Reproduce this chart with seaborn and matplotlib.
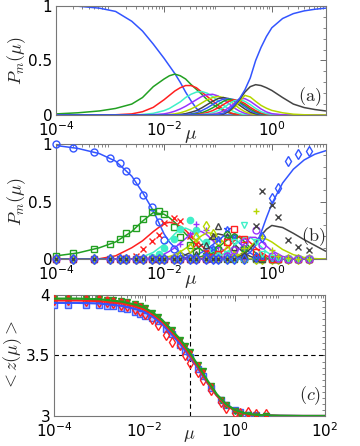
import numpy as np
import pandas as pd
import seaborn as sns
import matplotlib.pyplot as plt
from matplotlib.ticker import LogLocator, MultipleLocator, NullFormatter, FixedLocator

# log10(mu) where the solid curves of panels (a) and (b) are sampled
log_mu = [-4, -3.6, -3.2, -2.9, -2.6, -2.4, -2.2, -2.0, -1.9, -1.8, -1.7, -1.6, -1.5, -1.4, -1.3, -1.2,
          -1.1, -1.0, -0.9, -0.8, -0.7, -0.6, -0.5, -0.4, -0.3, -0.2, -0.1, 0.0, 0.2, 0.4, 0.6, 0.8, 1.0]

# panel (a): P_m(mu), m = 0..14
pa = [
    [1.0, 0.998, 0.98, 0.95, 0.86, 0.77, 0.65, 0.52, 0.45, 0.38, 0.30, 0.21, 0.13, 0.06, 0.02, 0.005] + [0] * 17,
    [0.01, 0.02, 0.037, 0.06, 0.10, 0.16, 0.26, 0.33, 0.36, 0.375, 0.36, 0.33, 0.28, 0.235, 0.19, 0.14,
     0.10, 0.065, 0.04, 0.02, 0.008, 0.003] + [0] * 11,
    [0, 0, 0, 0.002, 0.01, 0.03, 0.07, 0.14, 0.18, 0.22, 0.25, 0.27, 0.27, 0.25, 0.21, 0.17,
     0.13, 0.09, 0.05, 0.025, 0.01, 0.003] + [0] * 11,
    [0] * 5 + [0.005, 0.015, 0.04, 0.06, 0.09, 0.12, 0.16, 0.19, 0.21, 0.215, 0.20, 0.17, 0.13, 0.09,
               0.055, 0.03, 0.012, 0.004] + [0] * 10,
    [0] * 6 + [0.003, 0.01, 0.02, 0.035, 0.055, 0.08, 0.11, 0.14, 0.17, 0.185, 0.19, 0.175, 0.145,
               0.105, 0.065, 0.035, 0.015, 0.005] + [0] * 9,
    [0] * 8 + [0.005, 0.01, 0.02, 0.035, 0.055, 0.08, 0.11, 0.14, 0.16, 0.17, 0.16, 0.135, 0.10,
               0.06, 0.03, 0.012, 0.004] + [0] * 8,
    [0] * 10 + [0.005, 0.012, 0.025, 0.04, 0.065, 0.095, 0.125, 0.15, 0.16, 0.15, 0.125, 0.09,
                0.055, 0.025, 0.01, 0.003] + [0] * 7,
    [0] * 11 + [0.004, 0.01, 0.02, 0.04, 0.065, 0.095, 0.125, 0.145, 0.15, 0.14, 0.11, 0.075,
                0.04, 0.018, 0.006] + [0] * 7,
    [0] * 12 + [0.004, 0.01, 0.02, 0.04, 0.065, 0.095, 0.125, 0.145, 0.14, 0.12, 0.09, 0.055,
                0.028, 0.012, 0.004] + [0] * 6,
    [0] * 13 + [0.004, 0.01, 0.022, 0.04, 0.065, 0.095, 0.125, 0.14, 0.13, 0.105, 0.07, 0.04,
                0.018, 0.007, 0.002] + [0] * 5,
    [0] * 14 + [0.004, 0.01, 0.02, 0.04, 0.065, 0.1, 0.13, 0.14, 0.125, 0.095, 0.06, 0.03,
                0.013, 0.005, 0.001] + [0] * 4,
    [0] * 15 + [0.003, 0.008, 0.018, 0.035, 0.065, 0.105, 0.15, 0.15, 0.125, 0.09, 0.055, 0.028,
                0.012, 0.002] + [0] * 4,
    [0] * 16 + [0.003, 0.007, 0.015, 0.03, 0.065, 0.12, 0.18, 0.165, 0.125, 0.088, 0.062, 0.042,
                0.02, 0.007, 0.002, 0, 0],
    [0] * 17 + [0.003, 0.008, 0.03, 0.08, 0.14, 0.21, 0.26, 0.278, 0.27, 0.25, 0.225, 0.16,
                0.10, 0.068, 0.05, 0.037],
    [0] * 17 + [0.005, 0.015, 0.045, 0.09, 0.15, 0.23, 0.34, 0.5, 0.62, 0.72, 0.8, 0.885,
                0.93, 0.955, 0.97, 0.98],
]

# panel (b): fitted P_m(mu), m = 0..14
pb = [
    [0.985, 0.96, 0.915, 0.85, 0.72, 0.58, 0.42, 0.22, 0.15, 0.10, 0.06, 0.035, 0.018, 0.008, 0.003] + [0] * 18,
    [0.03, 0.055, 0.10, 0.15, 0.24, 0.33, 0.405, 0.39, 0.36, 0.32, 0.27, 0.22, 0.17, 0.12, 0.08, 0.05,
     0.03, 0.015, 0.007, 0.003] + [0] * 13,
    [0, 0, 0.005, 0.03, 0.10, 0.16, 0.24, 0.31, 0.32, 0.31, 0.285, 0.25, 0.205, 0.16, 0.115, 0.075,
     0.045, 0.025, 0.012, 0.005, 0.002] + [0] * 12,
    [0] * 4 + [0.005, 0.02, 0.06, 0.13, 0.17, 0.22, 0.26, 0.27, 0.25, 0.21, 0.16, 0.11, 0.07, 0.04,
               0.02, 0.01, 0.004] + [0] * 12,
    [0] * 5 + [0.005, 0.015, 0.045, 0.07, 0.1, 0.14, 0.18, 0.22, 0.245, 0.24, 0.21, 0.165, 0.12,
               0.08, 0.045, 0.022, 0.01, 0.004] + [0] * 10,
    [0] * 6 + [0.004, 0.015, 0.025, 0.04, 0.065, 0.095, 0.13, 0.17, 0.205, 0.23, 0.225, 0.195,
               0.15, 0.105, 0.065, 0.035, 0.015, 0.005] + [0] * 9,
    [0] * 7 + [0.004, 0.008, 0.015, 0.025, 0.04, 0.06, 0.09, 0.125, 0.16, 0.195, 0.22, 0.21,
               0.18, 0.135, 0.09, 0.05, 0.025, 0.01, 0.003] + [0] * 7,
    [0] * 9 + [0.004, 0.008, 0.015, 0.025, 0.04, 0.06, 0.09, 0.125, 0.16, 0.2, 0.205, 0.18,
               0.14, 0.095, 0.055, 0.027, 0.012, 0.004] + [0] * 6,
    [0] * 11 + [0.004, 0.008, 0.015, 0.025, 0.045, 0.07, 0.1, 0.14, 0.18, 0.205, 0.19, 0.15,
                0.1, 0.055, 0.027, 0.011, 0.004] + [0] * 5,
    [0] * 13 + [0.004, 0.008, 0.015, 0.028, 0.048, 0.075, 0.11, 0.16, 0.2, 0.185, 0.145, 0.1,
                0.06, 0.03, 0.013, 0.003] + [0] * 4,
    [0] * 14 + [0.003, 0.007, 0.014, 0.025, 0.045, 0.075, 0.115, 0.16, 0.195, 0.19, 0.155, 0.11,
                0.065, 0.035, 0.008, 0.002] + [0] * 3,
    [0] * 16 + [0.003, 0.007, 0.015, 0.03, 0.055, 0.09, 0.14, 0.19, 0.19, 0.16, 0.115, 0.075,
                0.025, 0.007, 0.002, 0, 0],
    [0] * 17 + [0.002, 0.005, 0.01, 0.022, 0.04, 0.07, 0.11, 0.155, 0.18, 0.175, 0.15, 0.085,
                0.04, 0.016, 0.006, 0.002],
    [0] * 18 + [0.002, 0.005, 0.012, 0.025, 0.05, 0.09, 0.145, 0.205, 0.26, 0.293, 0.275, 0.225,
                0.17, 0.12, 0.07],
    [0] * 18 + [0.001, 0.003, 0.007, 0.015, 0.03, 0.06, 0.12, 0.23, 0.36, 0.48, 0.66, 0.78,
                0.86, 0.91, 0.94],
]

# mu values of the simulation points, panels (b) and (c)
mu_pts = [1e-4, 2e-4, 5e-4, 1e-3, 1.5e-3, 2e-3, 3e-3, 4e-3, 6e-3, 8e-3, 1e-2, 1.5e-2, 2e-2, 3e-2,
          4e-2, 6e-2, 8e-2, 0.1, 0.15, 0.2, 0.3, 0.5, 0.65, 1.0, 1.3, 2.0, 3.0, 5.0]

# panel (b): simulated P_m at mu_pts
pb_pts = [
    [0.995, 0.965, 0.926, 0.876, 0.837, 0.764, 0.68, 0.56, 0.45, 0.32, 0.17, 0.09, 0.03, 0.01] + [0] * 14,
    [0.03, 0.053, 0.09, 0.13, 0.18, 0.23, 0.275, 0.35, 0.41, 0.42, 0.39, 0.28, 0.195, 0.12, 0.07,
     0.03, 0.01] + [0] * 11,
    [0, 0, 0, 0, 0.005, 0.01, 0.03, 0.09, 0.156, 0.207, 0.31, 0.36, 0.33, 0.2, 0.13, 0.06, 0.03,
     0.015, 0.005] + [0] * 9,
    [0] * 8 + [0.02, 0.05, 0.1, 0.18, 0.26, 0.34, 0.25, 0.15, 0.08, 0.04, 0.01] + [0] * 9,
    [0] * 11 + [0.03, 0.13, 0.22, 0.305, 0.25, 0.18, 0.11, 0.05, 0.02] + [0] * 8,
    [0] * 12 + [0.04, 0.1, 0.19, 0.29, 0.22, 0.16, 0.08, 0.03, 0.01] + [0] * 7,
    [0] * 14 + [0.05, 0.12, 0.2, 0.285, 0.2, 0.11, 0.04, 0.01] + [0] * 6,
    [0] * 15 + [0.04, 0.1, 0.18, 0.26, 0.2, 0.1, 0.03, 0.01] + [0] * 5,
    [0] * 16 + [0.04, 0.1, 0.22, 0.2, 0.1, 0.03, 0.01] + [0] * 5,
    [0] * 16 + [0.02, 0.05, 0.15, 0.26, 0.18, 0.06, 0.02, 0.005] + [0] * 4,
    [0] * 17 + [0.02, 0.05, 0.15, 0.30, 0.15, 0.05, 0.01] + [0] * 4,
    [0] * 18 + [0.03, 0.08, 0.15, 0.25, 0.12, 0.03, 0.01] + [0] * 3,
    [0] * 19 + [0.02, 0.1, 0.42, 0.2, 0.08, 0.03, 0.01, 0.0] + [0],
    [0] * 19 + [0.005, 0.03, 0.29, 0.59, 0.47, 0.37, 0.17, 0.11, 0.08],
    [0] * 21 + [0.02, 0.19, 0.535, 0.62, 0.85, 0.91, 0.935],
]
pts_markers = ['o', 's', 'x', '.', '+', 'd', '^', '*', 'p', 's', 'v', 'o', '+', 'x', 'd']

# panel (c): mean coordination number
log_mu_c = [-4, -3.5, -3, -2.5, -2.2, -2.0, -1.8, -1.6, -1.4, -1.2, -1.0, -0.8, -0.6, -0.4, -0.2,
            0, 0.2, 0.4, 0.6, 1.0, 1.5, 2.0]
z_blue = [3.935, 3.935, 3.93, 3.91, 3.885, 3.86, 3.815, 3.755, 3.675, 3.59, 3.495, 3.385, 3.27,
          3.17, 3.095, 3.05, 3.025, 3.012, 3.006, 3.002, 3.0, 3.0]
z_red = [3.955, 3.955, 3.95, 3.93, 3.905, 3.88, 3.835, 3.775, 3.695, 3.61, 3.51, 3.395, 3.275,
         3.17, 3.09, 3.045, 3.02, 3.01, 3.005, 3.001, 3.0, 3.0]
z_green = [3.97, 3.97, 3.965, 3.945, 3.92, 3.895, 3.85, 3.79, 3.71, 3.63, 3.525, 3.41, 3.29,
           3.18, 3.10, 3.05, 3.025, 3.012, 3.006, 3.002, 3.0, 3.0]
zc_blue_pts = [3.92, 3.92, 3.92, 3.915, 3.91, 3.905, 3.895, 3.885, 3.86, 3.845, 3.83, 3.81, 3.785,
               3.72, 3.675, 3.585, 3.54, 3.49, 3.39, 3.33, 3.23, 3.13, 3.09, 3.05, 3.03, 3.01, 3.005, 3.0]
zc_red_pts = [3.955, 3.955, 3.95, 3.945, 3.94, 3.93, 3.92, 3.91, 3.885, 3.87, 3.845, 3.80, 3.75,
              3.67, 3.61, 3.587, 3.50, 3.435, 3.36, 3.30, 3.215, 3.118, 3.063, 3.022, 3.025, 3.03,
              3.02, 3.02]
zc_reddot_pts = [3.985, 3.985, 3.982, 3.98, 3.975, 3.97, 3.96, 3.95, 3.93, 3.915, 3.895, 3.855,
                 3.82, 3.76, 3.71, 3.63, 3.58, 3.53, 3.43, 3.37, 3.26, 3.14, 3.1, 3.05, 3.03, 3.01,
                 3.005, 3.0]
zc_green_pts = [3.97, 3.97, 3.97, 3.965, 3.96, 3.955, 3.95, 3.94, 3.925, 3.91, 3.895, 3.855, 3.82,
                3.75, 3.71, 3.63, 3.58, 3.53, 3.42, 3.37, 3.25, 3.13, 3.09, 3.04, 3.02, 3.005, 3.0, 3.0]

base_colors = ['#3355ff', '#22a022', '#ff2020', '#40f0c8', '#9933ff', '#b5d600', '#444444']
colors = [base_colors[i % 7] for i in range(15)]

sns.set_style('white')
plt.rcParams['font.family'] = ['DejaVu Sans']
plt.rcParams['mathtext.fontset'] = 'cm'
plt.rcParams['xtick.direction'] = 'in'
plt.rcParams['ytick.direction'] = 'in'

fig = plt.figure(figsize=(3.6, 4.46), dpi=100)
ax_a = fig.add_axes([0.1564, 0.7422, 0.7483, 0.2444])
ax_b = fig.add_axes([0.1564, 0.4186, 0.7483, 0.2590])
ax_c = fig.add_axes([0.1508, 0.0673, 0.7520, 0.2713])

mu = 10.0 ** np.array(log_mu)
names = [f'm{i}' for i in range(15)]
pal = dict(zip(names, colors))


def curves_frame(vals):
    return pd.DataFrame({'mu': np.tile(mu, len(vals)),
                         'P': np.concatenate([np.asarray(v, float) for v in vals]),
                         'm': np.repeat(names, len(mu))})


for ax, vals in [(ax_a, pa), (ax_b, pb)]:
    sns.lineplot(data=curves_frame(vals), x='mu', y='P', hue='m', hue_order=names, palette=pal,
                 legend=False, errorbar=None, linewidth=1.1, ax=ax)

# simulation markers, panel (b)
for i, vals in enumerate(pb_pts):
    mk = pts_markers[i]
    ms = 9 if mk == '.' else 5
    ax_b.plot(mu_pts, vals, linestyle='none', marker=mk, markersize=ms, mfc='none' if mk != '.' else colors[i],
              mec=colors[i], mew=1.0, clip_on=False, zorder=3)

# panel (c)
mu_c = 10.0 ** np.array(log_mu_c)
ax_c.axhline(3.5, color='k', ls='--', lw=0.8, dashes=(4, 3))
ax_c.axvline(0.1, color='k', ls='--', lw=0.8, dashes=(4, 3))
ax_c.plot(mu_pts, zc_blue_pts, ls='none', marker='s', ms=5, mfc='#b8c0ff', mec='#4060ff', mew=1.0, zorder=3)
ax_c.plot(mu_pts, zc_red_pts, ls='none', marker='d', ms=5, mfc='none', mec='#ff2020', mew=1.0, zorder=3)
ax_c.plot(mu_pts, zc_green_pts, ls='none', marker='v', ms=4.5, mfc='#22a022', mec='#22a022', mew=1.0, zorder=3)
ax_c.plot(mu_pts, zc_reddot_pts, ls='none', marker='.', ms=4, color='#ff2020', zorder=3)
for zz, c in [(z_blue, '#3355ff'), (z_red, '#ff2020'), (z_green, '#22a022')]:
    sns.lineplot(x=mu_c, y=zz, color=c, linewidth=1.6, ax=ax_c, zorder=4)

for ax in (ax_a, ax_b, ax_c):
    ax.set_xscale('log')
    ax.xaxis.set_major_locator(FixedLocator([1e-4, 1e-2, 1e0, 1e2]))
    ax.xaxis.set_minor_locator(LogLocator(base=10, subs=np.arange(2, 10), numticks=20))
    ax.xaxis.set_minor_formatter(NullFormatter())
    ax.tick_params(which='both', top=True, right=True, labelsize=11, colors='#555555',
                   labelcolor='black', pad=3)
    ax.tick_params(axis='x', which='major', pad=3.5)
    ax.tick_params(which='major', length=4, width=0.6)
    ax.tick_params(which='minor', length=2, width=0.5)
    for sp in ax.spines.values():
        sp.set_color('#777777')
        sp.set_linewidth(0.8)
    ax.set_xlabel(r'$\mu$', fontsize=14)
    ax.xaxis.set_label_coords(0.5, -0.1)

ax_c.set_xlabel(r'$\mu$', fontsize=13)
ax_c.xaxis.set_label_coords(0.5, -0.085)

for ax in (ax_a, ax_b):
    ax.set_xlim(1e-4, 10)
    ax.set_ylim(0, 1)
    ax.set_yticks([0, 0.5, 1])
    ax.set_yticklabels(['0', '0.5', '1'])
    ax.yaxis.set_minor_locator(MultipleLocator(0.1))
    ax.set_ylabel(r'$P_m(\mu)$', fontsize=13, labelpad=0)

ax_c.set_xlim(1e-4, 1e2)
ax_c.set_ylim(3, 4)
ax_c.set_yticks([3, 3.5, 4])
ax_c.set_yticklabels(['3', '3.5', '4'])
ax_c.yaxis.set_minor_locator(MultipleLocator(0.05))
ax_c.set_ylabel(r'$<z(\mu)>$', fontsize=13, labelpad=1)

ax_a.text(0.94, 0.17, r'$\mathrm{(a)}$', transform=ax_a.transAxes, fontsize=13, ha='center', va='center')
ax_b.text(0.955, 0.2, r'$\mathrm{(b)}$', transform=ax_b.transAxes, fontsize=13, ha='center', va='center')
ax_c.text(0.945, 0.17, r'$(c)$', transform=ax_c.transAxes, fontsize=13, ha='center', va='center')

fig.savefig('out.png', dpi=100)
